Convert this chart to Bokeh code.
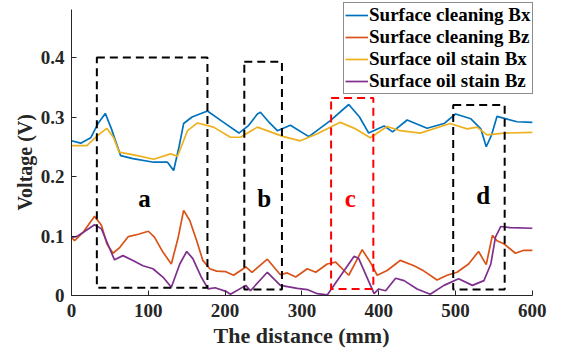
from bokeh.plotting import figure
from bokeh.models import Range1d, Legend, LegendItem, ColumnDataSource, Title
from bokeh.core.properties import value
from bokeh.embed import file_html
from bokeh.resources import INLINE

# --- data ---
bx_clean_x = [0, 12, 25, 35, 44, 52, 64, 80, 107, 125, 133, 140, 146, 157, 177, 198, 218, 230, 242, 246, 258, 268, 285, 309, 337, 361, 375, 387, 407, 418, 437, 463, 485, 500, 520, 533, 540, 547, 554, 580, 600]
bx_clean_y = [0.26, 0.256, 0.265, 0.29, 0.306, 0.28, 0.235, 0.23, 0.224, 0.224, 0.21, 0.25, 0.289, 0.30, 0.31, 0.291, 0.273, 0.285, 0.305, 0.308, 0.29, 0.277, 0.286, 0.267, 0.294, 0.321, 0.30, 0.273, 0.285, 0.275, 0.295, 0.281, 0.289, 0.305, 0.297, 0.28, 0.25, 0.27, 0.301, 0.292, 0.291]

bz_clean_x = [0, 4, 15, 30, 39, 46, 54, 63, 74, 87, 100, 108, 119, 130, 139, 146, 154, 163, 171, 180, 189, 201, 211, 227, 235, 255, 272, 281, 292, 307, 318, 333, 344, 361, 370, 378.5, 389, 398, 411, 422, 428, 446, 459, 476, 489, 502, 517, 530, 540, 548, 554, 563, 578, 589, 600]
bz_clean_y = [0.098, 0.092, 0.106, 0.133, 0.118, 0.087, 0.071, 0.081, 0.099, 0.103, 0.108, 0.098, 0.073, 0.053, 0.098, 0.143, 0.126, 0.092, 0.059, 0.045, 0.041, 0.040, 0.034, 0.048, 0.039, 0.061, 0.035, 0.038, 0.031, 0.045, 0.039, 0.053, 0.056, 0.034, 0.056, 0.077, 0.056, 0.034, 0.042, 0.053, 0.059, 0.050, 0.041, 0.026, 0.034, 0.039, 0.053, 0.074, 0.052, 0.101, 0.092, 0.087, 0.071, 0.076, 0.076]

bx_oil_x = [0, 20, 35, 46, 55, 62, 86, 107, 129, 138, 151, 164, 185, 207, 220, 242, 276, 298, 320, 350, 370, 389, 411, 428, 454, 493, 515, 528, 541, 563, 600]
bx_oil_y = [0.252, 0.252, 0.27, 0.281, 0.265, 0.241, 0.235, 0.229, 0.238, 0.234, 0.277, 0.29, 0.283, 0.266, 0.266, 0.283, 0.267, 0.26, 0.272, 0.291, 0.28, 0.265, 0.284, 0.277, 0.273, 0.289, 0.28, 0.283, 0.27, 0.273, 0.274]

bz_oil_x = [0, 6.5, 15, 30, 39, 48, 56, 67, 80, 93, 106, 119, 130, 141, 150, 158, 169, 178, 187, 201, 207, 227, 233, 255, 272, 294, 307, 320, 333, 368, 374, 394, 400, 409, 422, 433, 450, 467, 485, 504, 522, 537, 546, 552, 559, 571, 600]
bz_oil_y = [0.098, 0.099, 0.106, 0.119, 0.112, 0.084, 0.060, 0.067, 0.059, 0.050, 0.045, 0.031, 0.014, 0.053, 0.074, 0.062, 0.031, 0.011, 0.013, 0.007, 0.002, 0.017, 0.008, 0.039, 0.017, 0.012, 0.010, 0.003, 0.001, 0.066, 0.062, 0.003, 0.011, 0.008, 0.029, 0.025, 0.011, 0.002, 0.017, 0.028, 0.017, 0.025, 0.053, 0.098, 0.116, 0.114, 0.113]

series_names = ["Surface cleaning Bx", "Surface cleaning Bz", "Surface oil stain Bx", "Surface oil stain Bz"]
series_colors = ["#0072BD", "#D95319", "#EDB120", "#7E2F8E"]

box_labels = ["a", "b", "c", "d"]
box_left = [33, 225, 338, 497]
box_right = [177, 274, 393, 564]
box_bottom = [0.013, 0.01, 0.011, 0.01]
box_top = [0.40, 0.393, 0.332, 0.32]
box_colors = ["black", "black", "#FF0000", "black"]
label_x = [95, 251, 363, 536]
label_y = [0.163, 0.163, 0.163, 0.168]

x_ticks = [0, 100, 200, 300, 400, 500, 600]
y_ticks = [0, 0.1, 0.2, 0.3, 0.4]
x_axis_end = 600
y_axis_end = 0.48

FONT = "Liberation Serif"

# frame spans to the right and top edges so the legend is not clipped;
# axis lines are bounded to the data extent
p = figure(width=563, height=353, output_backend="svg", toolbar_location=None,
           x_range=Range1d(0, 640.6), y_range=Range1d(0, 0.4958),
           min_border_left=71, min_border_right=0, min_border_top=0, min_border_bottom=58)
p.outline_line_color = None
p.grid.visible = False
p.background_fill_color = "white"
p.border_fill_color = "white"

renderers = []
for xs, ys, c in [(bx_clean_x, bx_clean_y, series_colors[0]),
                  (bz_clean_x, bz_clean_y, series_colors[1]),
                  (bx_oil_x, bx_oil_y, series_colors[2]),
                  (bz_oil_x, bz_oil_y, series_colors[3])]:
    r = p.line(xs, ys, line_color=c, line_width=1.7)
    renderers.append(r)

box_src = ColumnDataSource(dict(left=box_left, right=box_right, bottom=box_bottom, top=box_top, color=box_colors))
p.quad(left="left", right="right", bottom="bottom", top="top", source=box_src,
       fill_color=None, line_color="color", line_width=2, line_dash="8 5")

lab_src = ColumnDataSource(dict(x=label_x, y=label_y, text=box_labels, color=box_colors))
p.text(x="x", y="y", text="text", source=lab_src, text_color="color",
       text_font=value(FONT), text_font_style="bold", text_font_size="25px",
       text_align="center", text_baseline="middle")

# axes
p.xaxis.ticker = x_ticks
p.yaxis.ticker = y_ticks
p.xaxis.bounds = (0, x_axis_end)
p.yaxis.bounds = (0, y_axis_end)
p.yaxis.major_label_overrides = {0: "0", 0.1: "0.1", 0.2: "0.2", 0.3: "0.3", 0.4: "0.4"}
for ax in [p.xaxis[0], p.yaxis[0]]:
    ax.major_tick_in = 5
    ax.major_tick_out = 0
    ax.minor_tick_line_color = None
    ax.axis_line_color = "#262626"
    ax.major_tick_line_color = "#262626"
    ax.major_label_text_font = FONT
    ax.major_label_text_font_style = "bold"
    ax.major_label_text_font_size = "19px"
    ax.major_label_text_color = "#262626"
p.xaxis.major_label_standoff = 8
p.yaxis.major_label_standoff = 7

# axis labels as side titles, centred on the bounded axes
xlab = Title(text="The distance (mm)", align="left", offset=142,
             text_font=FONT, text_font_style="bold", text_font_size="22px",
             text_color="#262626", standoff=2)
p.add_layout(xlab, "below")
ylab = Title(text="Voltage (V)", align="left", offset=85,
             text_font=FONT, text_font_style="bold", text_font_size="20px",
             text_color="#262626", standoff=4)
p.add_layout(ylab, "left")

legend = Legend(items=[LegendItem(label=n, renderers=[r]) for n, r in zip(series_names, renderers)],
                location=(272, 201))
legend.label_text_font = FONT
legend.label_text_font_style = "bold"
legend.label_text_font_size = "19px"
legend.label_text_color = "black"
legend.label_height = 22
legend.glyph_height = 22
legend.glyph_width = 23
legend.label_standoff = 1
legend.spacing = 0
legend.padding = 1
legend.margin = 0
legend.border_line_color = "#8c8c8c"
legend.border_line_alpha = 1
legend.border_line_width = 1
legend.background_fill_color = "white"
legend.background_fill_alpha = 1
p.add_layout(legend, "center")

open("out.html", "w").write(file_html(p, INLINE))
